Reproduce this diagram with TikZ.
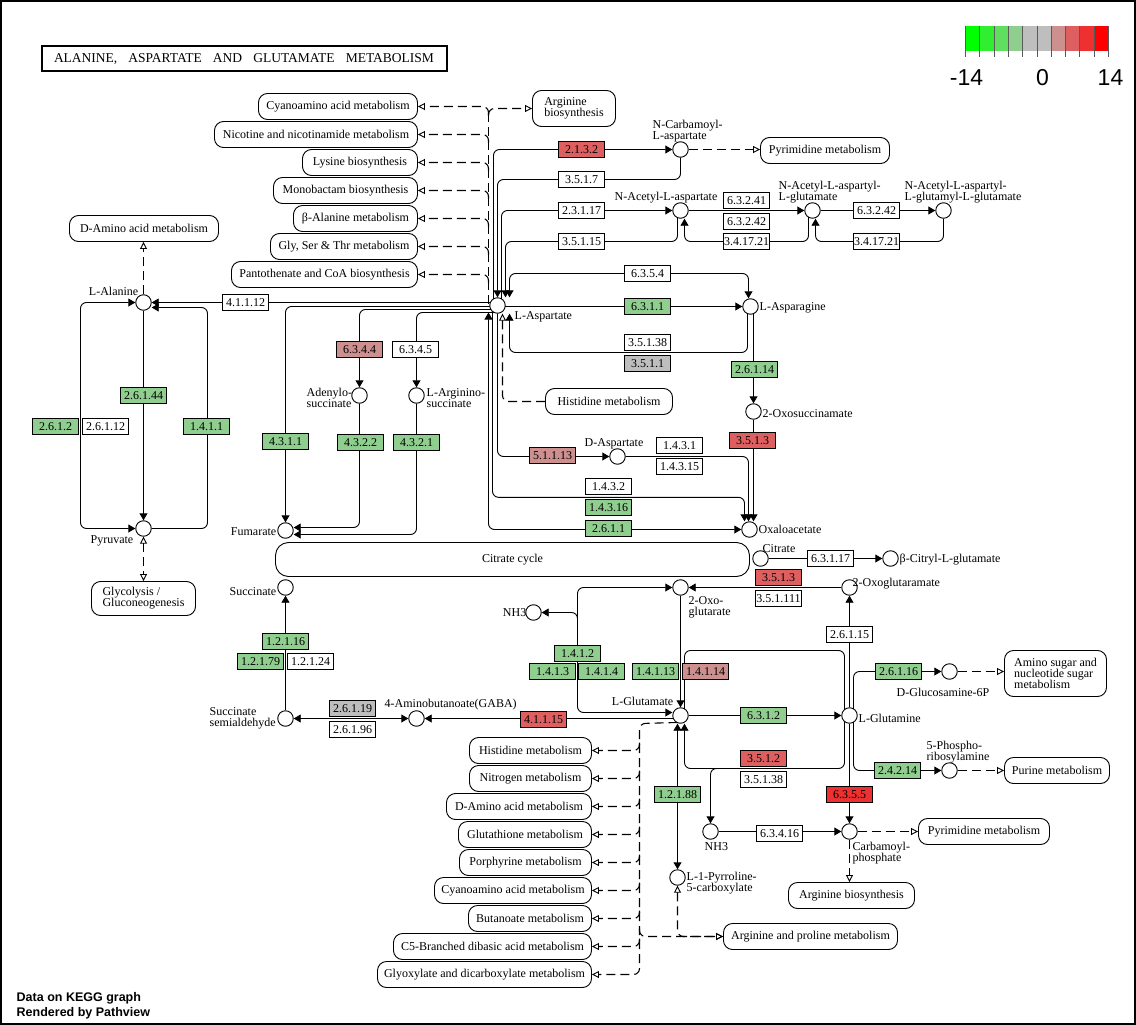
\documentclass[tikz,border=0pt]{standalone}
\usepackage{fontspec}
\setmainfont{Liberation Serif}
\newfontfamily\sansf{Liberation Sans}
\usetikzlibrary{arrows.meta,calc}
\pgfdeclarelayer{bg}
\pgfsetlayers{bg,main}
\definecolor{cA}{HTML}{00FF00}
\definecolor{cB}{HTML}{30EF30}
\definecolor{cC}{HTML}{5FDE5F}
\definecolor{cD}{HTML}{8FCE8F}
\definecolor{cE}{HTML}{BEBEBE}
\definecolor{cG}{HTML}{CE8F8F}
\definecolor{cH}{HTML}{DE5F5F}
\definecolor{cI}{HTML}{EF3030}
\definecolor{cJ}{HTML}{FF0000}
\newcommand{\kf}{\fontsize{12}{11}\selectfont}
\newcommand{\kmap}[7]{\node[mapn,#1,minimum width={#5-#3},minimum height={#6-#4}] (#2) at ({(#3+#5)/2},{(#4+#6)/2}) {#7};}
\newcommand{\kc}[3]{\node[cpd] (#1) at (#2,#3) {};}
\newcommand{\ke}[5]{\node[enz,fill=#5] (#1) at (#2,#3) {#4};}
\begin{document}
\begin{tikzpicture}[x=1pt,y=-1pt,
  cpd/.style={circle,draw,fill=white,minimum size=15.5pt,inner sep=0pt,line width=0.9pt},
  enz/.style={draw,minimum width=46pt,minimum height=16pt,inner sep=0pt,font=\kf,line width=0.9pt},
  mapn/.style={draw,fill=white,rounded corners=9pt,inner sep=0pt,font=\kf,align=center,line width=0.9pt},
  lbl/.style={inner sep=0pt,font=\kf,align=left},
  ln/.style={line width=0.9pt,rounded corners=6pt},
  dsh/.style={line width=1.1pt,rounded corners=6pt,dash pattern=on 9pt off 5pt},
  ea/.style={-{Triangle[length=7pt,width=8pt]}},
  sa/.style={{Triangle[length=7pt,width=8pt]}-},
  ba/.style={{Triangle[length=7pt,width=8pt]}-{Triangle[length=7pt,width=8pt]}},
  eo/.style={-{Triangle[open,length=7pt,width=7pt,line width=0.9pt]}},
  so/.style={{Triangle[open,length=7pt,width=7pt,line width=0.9pt]}-},
  bo/.style={{Triangle[open,length=7pt,width=7pt,line width=0.9pt]}-{Triangle[open,length=7pt,width=7pt,line width=0.9pt]}}]
\useasboundingbox (-0.5,-0.5) rectangle (1135.5,1024.5);
\draw[line width=1.5pt] (0.3,0.3) rectangle (1134.7,1023.7);

% title
\node[draw,line width=2pt,minimum width=405pt,minimum height=25pt,inner sep=0pt] (title) at (243.5,58.5)
  {\fontsize{13.5}{13}\selectfont\makebox[380pt][s]{ALANINE, ASPARTATE AND GLUTAMATE METABOLISM}};

% legend
\foreach \c [count=\i from 0] in {cA,cB,cC,cD,cE,cE,cG,cH,cI,cJ}
  \fill[\c] ({965+14.3*\i},26) rectangle ({965+14.3*(\i+1)},51);
\foreach \i in {0,...,10}
  \draw[line width=1pt,black!65] ({965+14.3*\i},26) -- ({965+14.3*\i},57);
\node[font=\sansf\fontsize{23}{23}\selectfont] (lgA) at (966,77) {-14};
\node[font=\sansf\fontsize{23}{23}\selectfont] (lgB) at (1042,77) {0};
\node[font=\sansf\fontsize{23}{23}\selectfont] (lgC) at (1110,77) {14};

\node[anchor=west,align=left,inner sep=0pt,font=\sansf\bfseries\fontsize{12.5}{15}\selectfont] (credit) at (16,1005.5)
  {Data on KEGG graph\\Rendered by Pathview};

% maps
\kmap{}{mCy1}{258}{93}{417}{119}{Cyanoamino acid metabolism}
\kmap{}{mNic}{214}{121}{417}{147}{Nicotine and nicotinamide metabolism}
\kmap{}{mLys}{302}{149}{417}{175}{Lysine biosynthesis}
\kmap{}{mMono}{273}{177}{417}{203}{Monobactam biosynthesis}
\kmap{}{mBal}{293}{205}{417}{231}{β-Alanine metabolism}
\kmap{}{mGly}{270}{233}{417}{259}{Gly, Ser \& Thr metabolism}
\kmap{}{mPan}{231}{261}{417}{287}{Pantothenate and CoA biosynthesis}
\kmap{align=left}{mArg1}{532}{90}{615}{126}{Arginine\\biosynthesis}
\kmap{}{mPyr1}{760}{137}{889}{163}{Pyrimidine metabolism}
\kmap{}{mDam1}{69}{215}{218}{241}{D-Amino acid metabolism}
\kmap{}{mHis1}{545}{388}{672}{414}{Histidine metabolism}
\kmap{align=left}{mGlyc}{91}{581}{195}{615}{Glycolysis /\\Gluconeogenesis}
\kmap{align=left}{mAmi}{1004}{650}{1106}{696}{Amino sugar and\\nucleotide sugar\\metabolism}
\kmap{}{mPur}{1004}{757}{1109}{783}{Purine metabolism}
\kmap{}{mPyr2}{918}{818}{1049}{844}{Pyrimidine metabolism}
\kmap{}{mArg2}{788}{882}{914}{908}{Arginine biosynthesis}
\kmap{}{mArgPro}{723}{923}{897}{949}{Arginine and proline metabolism}
\kmap{}{mHis2}{469}{737}{591}{763}{Histidine metabolism}
\kmap{}{mNit}{469}{765}{591}{791}{Nitrogen metabolism}
\kmap{}{mDam2}{446}{793}{591}{819}{D-Amino acid metabolism}
\kmap{}{mGsh}{458}{821}{591}{847}{Glutathione metabolism}
\kmap{}{mPor}{459}{849}{591}{875}{Porphyrine metabolism}
\kmap{}{mCy2}{434}{877}{591}{903}{Cyanoamino acid metabolism}
\kmap{}{mBut}{468}{905}{591}{931}{Butanoate metabolism}
\kmap{}{mC5}{393}{933}{591}{959}{C5-Branched dibasic acid metabolism}
\kmap{}{mGlx}{377}{961}{591}{987}{Glyoxylate and dicarboxylate metabolism}
\kmap{rounded corners=13pt}{mTca}{275}{542}{749}{576}{Citrate cycle}

% enzymes
\ke{e41112}{245}{302}{4.1.1.12}{white}
\ke{e26144}{143}{395}{2.6.1.44}{cD}
\ke{e2612}{55}{426}{2.6.1.2}{cD}
\ke{e26112}{105}{426}{2.6.1.12}{white}
\ke{e1411}{206}{426}{1.4.1.1}{cD}
\ke{e2132}{581}{149}{2.1.3.2}{cH}
\ke{e3517}{581}{179}{3.5.1.7}{white}
\ke{e23117}{581}{210}{2.3.1.17}{white}
\ke{e35115}{581}{241}{3.5.1.15}{white}
\ke{e63241}{746}{200}{6.3.2.41}{white}
\ke{e63242a}{746}{221}{6.3.2.42}{white}
\ke{e34172a}{746}{241}{3.4.17.21}{white}
\ke{e63242b}{876}{210}{6.3.2.42}{white}
\ke{e34172b}{876}{241}{3.4.17.21}{white}
\ke{e6354}{647}{273}{6.3.5.4}{white}
\ke{e6311}{647}{306}{6.3.1.1}{cD}
\ke{e35138a}{647}{342}{3.5.1.38}{white}
\ke{e3511}{647}{363}{3.5.1.1}{cE}
\ke{e26114}{754}{369}{2.6.1.14}{cD}
\ke{e3513a}{752}{440}{3.5.1.3}{cH}
\ke{e6344}{359}{349}{6.3.4.4}{cG}
\ke{e6345}{415}{349}{6.3.4.5}{white}
\ke{e4311}{285}{441}{4.3.1.1}{cD}
\ke{e4322}{360}{442}{4.3.2.2}{cD}
\ke{e4321}{416}{442}{4.3.2.1}{cD}
\ke{e51113}{552}{455}{5.1.1.13}{cG}
\ke{e1431}{679}{445}{1.4.3.1}{white}
\ke{e14315}{679}{466}{1.4.3.15}{white}
\ke{e1432}{608}{486}{1.4.3.2}{white}
\ke{e14316}{608}{507}{1.4.3.16}{cD}
\ke{e2611}{608}{528}{2.6.1.1}{cD}
\ke{e63117}{830}{558}{6.3.1.17}{white}
\ke{e3513b}{778}{577}{3.5.1.3}{cH}
\ke{e351111}{778}{598}{3.5.1.111}{white}
\ke{e26115}{849}{634}{2.6.1.15}{white}
\ke{e26116}{898}{671}{2.6.1.16}{cD}
\ke{e12116}{285}{641}{1.2.1.16}{cD}
\ke{e12179}{260}{661}{1.2.1.79}{cD}
\ke{e12124}{310}{661}{1.2.1.24}{white}
\ke{e1412}{577}{653}{1.4.1.2}{cD}
\ke{e1413}{552}{671}{1.4.1.3}{cD}
\ke{e1414}{601}{671}{1.4.1.4}{cD}
\ke{e14113}{655}{671}{1.4.1.13}{cD}
\ke{e14114}{705}{671}{1.4.1.14}{cG}
\ke{e26119}{352}{708}{2.6.1.19}{cE}
\ke{e26196}{352}{729}{2.6.1.96}{white}
\ke{e41115}{543}{719}{4.1.1.15}{cH}
\ke{e6312}{763}{715}{6.3.1.2}{cD}
\ke{e3512}{763}{758}{3.5.1.2}{cH}
\ke{e35138b}{763}{779}{3.5.1.38}{white}
\ke{e12188}{677}{794}{1.2.1.88}{cD}
\ke{e63416}{779}{833}{6.3.4.16}{white}
\ke{e6355}{849}{794}{6.3.5.5}{cI}
\ke{e24214}{897}{770}{2.4.2.14}{cD}

% compounds
\kc{ala}{143}{302}
\kc{pyr}{143}{528}
\kc{asp}{497}{305}
\kc{ncarb}{680}{149}
\kc{naa}{680}{210}
\kc{naag}{812}{210}
\kc{naagg}{943}{210}
\kc{asn}{750}{306}
\kc{oxs}{753}{411}
\kc{adsucc}{359}{395}
\kc{argsucc}{416}{395}
\kc{dasp}{617}{456}
\kc{oaa}{749}{529}
\kc{fum}{285}{530}
\kc{succ}{285}{587}
\kc{cit}{760}{558}
\kc{cglu}{890}{558}
\kc{oxgm}{849}{587}
\kc{akg}{680}{587}
\kc{nhA}{533}{612}
\kc{glcn}{949}{671}
\kc{glu}{680}{715}
\kc{gln}{849}{715}
\kc{ssa}{285}{718}
\kc{gaba}{416}{718}
\kc{pra}{949}{770}
\kc{nhB}{710}{831}
\kc{cp}{849}{831}
\kc{pfc}{677}{877}

% compound labels
\node[lbl,anchor=east] (lAla) at (138,291) {L-Alanine};
\node[lbl,anchor=east] (lPyr) at (133,540) {Pyruvate};
\node[lbl,anchor=west] (lAsp) at (514,316) {L-Aspartate};
\node[lbl,anchor=west] (lNcarb) at (652,131) {N-Carbamoyl-\\L-aspartate};
\node[lbl,anchor=west] (lNaa) at (614,197) {N-Acetyl-L-aspartate};
\node[lbl,anchor=west] (lNaag) at (778,191.5) {N-Acetyl-L-aspartyl-\\L-glutamate};
\node[lbl,anchor=west] (lNaagg) at (904,191.5) {N-Acetyl-L-aspartyl-\\L-glutamyl-L-glutamate};
\node[lbl,anchor=west] (lAsn) at (759,307) {L-Asparagine};
\node[lbl,anchor=west] (lOxs) at (762,413) {2-Oxosuccinamate};
\node[lbl,anchor=west] (lAds) at (306,397.5) {Adenylo-\\succinate};
\node[lbl,anchor=west] (lArs) at (426,397.5) {L-Arginino-\\succinate};
\node[lbl,anchor=west] (lDasp) at (584,443) {D-Aspartate};
\node[lbl,anchor=west] (lOaa) at (758,529) {Oxaloacetate};
\node[lbl,anchor=east] (lFum) at (276,531) {Fumarate};
\node[lbl,anchor=east] (lSucc) at (276,591) {Succinate};
\node[lbl,anchor=west] (lCit) at (762,548) {Citrate};
\node[lbl,anchor=west] (lCglu) at (899,559) {β-Citryl-L-glutamate};
\node[lbl,anchor=west] (lOxgm) at (852,583) {2-Oxoglutaramate};
\node[lbl,anchor=west] (lAkg) at (688,607) {2-Oxo-\\glutarate};
\node[lbl,anchor=east] (lNhA) at (526,612) {NH3};
\node[lbl,anchor=west] (lGlcn) at (896,692) {D-Glucosamine-6P};
\node[lbl,anchor=east] (lGlu) at (673,701) {L-Glutamate};
\node[lbl,anchor=west] (lGln) at (858,718) {L-Glutamine};
\node[lbl,anchor=west] (lSsa) at (209,717.5) {Succinate\\semialdehyde};
\node[lbl,anchor=west] (lGaba) at (384,704) {4-Aminobutanoate(GABA)};
\node[lbl,anchor=west] (lPra) at (926,751.5) {5-Phospho-\\ribosylamine};
\node[lbl,anchor=west] (lNhB) at (704,846) {NH3};
\node[lbl,anchor=west] (lCp) at (852,852.5) {Carbamoyl-\\phosphate};
\node[lbl,anchor=west] (lPfc) at (686,882.5) {L-1-Pyrroline-\\5-carboxylate};

\begin{pgfonlayer}{bg}
% dashed maps from L-aspartate
\coordinate (tk) at (488,115);
\draw[dsh] ($(asp)+(-9,-2)$) -- (tk);
\foreach \m in {mNic,mLys,mMono,mBal,mGly,mPan}
  \draw[dsh,eo] ($(tk |- \m.east)+(0,8)$) -- (tk |- \m.east) -- (\m.east);
\draw[dsh,eo] (tk) -- (tk |- mCy1.east) -- (mCy1.east);
\draw[dsh,eo] (tk) -- (tk |- mArg1.west) -- (mArg1.west);
% aspartate upward
\draw[ln,ea] ($(asp)+(-4,0)$) |- (ncarb.west);
\draw[ln,ea] (ncarb.south) |- (e3517.east) -- (e3517.west) -| (asp.north);
\draw[ln,ea] ($(asp)+(4,0)$) |- (naa.west);
\draw[ln,ea] ($(naa)+(-3,0)$) |- (e35115.east) -- (e35115.west) -| ($(asp.north)+(8,0)$);
\draw[ln,ba] ($(asp.north)+(12,0)$) |- (e6354.west) -- (e6354.east) -| ($(asn.north)+(-2,0)$);
\draw[ln,ea] ($(asp)+(0,1)$) -- (asn.west);
\draw[ln,ea] ($(asn)+(-3,0)$) -- ($(asn)+(-3,46)$) -| ($(asp.south)+(12,0)$);
\draw[ln,ea] ($(asn)+(3,0)$) -- (oxs.north);
\draw[ln,ea] (oxs) -- ($(oaa.north)+(4,0)$);
\draw[ln,ea] (dasp.east) -| ($(oaa.north)+(-1,0)$);
\draw[ln,ea] ($(asp)+(-5,0)$) |- ($(oaa.north)+(-5,-24)$) -- ($(oaa.north)+(-5,0)$);
\draw[ln,ea] (asp) |- (dasp.west);
\draw[ln,ba] ($(asp)+(-9,7)$) |- (oaa.west);
\draw[dsh,so] ($(asp.south)+(5,0)$) |- (mHis1.west);
% aspartate leftward
\draw[ln,ea] ($(asp)+(0,-3)$) -- (ala.east);
\draw[ln,ea] ($(asp)+(0,1)$) -| (fum.north);
\draw[ln,ea] ($(asp)+(0,4)$) -| (adsucc.north);
\draw[ln,ea] ($(asp)+(0,7)$) -| (argsucc.north);
\draw[ln,ea] (adsucc) |- ($(fum.east)+(0,-3)$);
\draw[ln,ea] (argsucc) |- ($(fum.east)+(0,4)$);
% alanine / pyruvate
\draw[ln,ba] (ala.west) -- (80,302) -- (80,528) -- (pyr.west);
\draw[ln,ea] (ala) -- (pyr.north);
\draw[ln,ea] (pyr) -- (207,528) -- (207,307) -- ($(ala.east)+(0,5)$);
\draw[dsh,bo] (pyr.south) -- (pyr.south |- mGlyc.north);
\draw[dsh,eo] (ala.north) -- (ala.north |- mDam1.south);
% succinate / GABA
\draw[ln,ea] (ssa) -- (succ.south);
\draw[ln,ba] (gaba.west) -- (ssa.east);
\draw[ln,ea] ($(glu)+(0,3)$) -- (gaba.east);
% glutamate region
\draw[ln,ba] (akg.west) -- (577,587) -- (577,712) -- ($(glu.west)+(0,-3)$);
\draw[ln,sa] (nhA.east) -- (577,612) -- (577,626);
\draw[ln,ea] (akg) -- (glu.north);
\draw[ln] ($(gln)+(-5,0)$) -- (844,650) -- (684,650) -- ($(glu)+(4,0)$);
\draw[ln,ea] (gln) -- (oxgm.south);
\draw[ln,ea] (oxgm.west) -- (akg.east);
\draw[ln,ea] (glu.east) -- (gln.west);
\draw[ln,ea] ($(gln)+(-5,0)$) -- (844,768) -- (684,768) -- ($(glu.south)+(4,0)$);
\coordinate (brN) at (728,768);
\draw[ln,ea] (brN) -- (710,768) -- (nhB.north);
\draw[ln,ea] ($(gln)+(4,0)$) -- (853,671) -- (glcn.west);
\draw[ln,ea] ($(gln)+(4,0)$) -- (853,770) -- (pra.west);
\draw[ln,ea] (gln) -- (cp.north);
\draw[ln,ea] (nhB.east) -- (cp.west);
\draw[dsh,eo] (cp.east) -- (mPyr2.west);
\draw[dsh,eo] (cp.south) -- (cp.south |- mArg2.north);
\draw[dsh,eo] (glcn.east) -- (glcn.east -| mAmi.west);
\draw[dsh,eo] (pra.east) -- (pra.east -| mPur.west);
\draw[ln,ba] ($(glu.south)+(-3,0)$) -- (pfc.north);
\draw[dsh,bo] (pfc.south) |- (mArgPro.west);
\coordinate (tk2) at (639,723);
\draw[dsh,eo] ($(glu)+(-3,7)$) -- (tk2) -- (tk2 |- mGlx.east) -- (mGlx.east);
\foreach \m in {mHis2,mNit,mDam2,mGsh,mPor,mCy2,mBut,mC5}
  \draw[dsh,eo] ($(tk2 |- \m.east)+(0,-8)$) -- (tk2 |- \m.east) -- (\m.east);
\draw[dsh,eo] ($(tk2 |- mArgPro.west)+(0,-8)$) -- (tk2 |- mArgPro.west) -- (mArgPro.west);
\draw[ln,ea] (cit.east) -- (cglu.west);
% N-acetyl group
\draw[ln,ea] (naa.east) -- (naag.west);
\draw[ln,ea] ($(naag)+(-4,0)$) |- (e34172a.east) -- (e34172a.west) -| ($(naa.south)+(4,0)$);
\draw[ln,ea] (naag.east) -- (naagg.west);
\draw[ln,ea] (naagg) |- (e34172b.east) -- (e34172b.west) -| ($(naag.south)+(3,0)$);
\draw[dsh,eo] (ncarb.east) -- (ncarb.east -| mPyr1.west);
\end{pgfonlayer}
\end{tikzpicture}
\end{document}
